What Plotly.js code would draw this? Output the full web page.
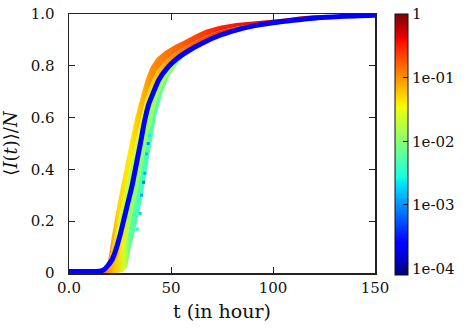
<!DOCTYPE html>
<html>
<head>
<meta charset="utf-8">
<script src="https://cdn.plot.ly/plotly-3.0.1.min.js"></script>
<style>
  html, body { margin: 0; padding: 0; background: #fff; }
  #graph { width: 472px; height: 330px; }
</style>
</head>
<body>
<div id="graph"></div>
<script>
// mean curve <I(t)>/N (the thick blue line)
const meanT = [0, 8, 15, 17, 19, 21, 23, 25, 27, 29, 31, 33, 35, 37, 39, 41, 44, 48, 53, 59, 66, 74, 82, 90, 100, 110, 120, 135, 150];
const meanY = [0.006, 0.006, 0.007, 0.012, 0.028, 0.05, 0.09, 0.145, 0.21, 0.275, 0.34, 0.42, 0.5, 0.585, 0.65, 0.69, 0.745, 0.79, 0.828, 0.86, 0.89, 0.918, 0.938, 0.953, 0.966, 0.976, 0.984, 0.991, 0.995];

// upper-left edge of the trajectory band, and the line half way to the mean
const upperT = [16, 18, 19.5, 21, 23, 25, 27.5, 30, 32.5, 35, 37.5, 40, 43, 47, 52, 57, 62, 67, 74, 82, 90, 98, 106, 113, 120, 150];
const upperY = [0.0, 0.012, 0.06, 0.14, 0.23, 0.315, 0.41, 0.51, 0.6, 0.675, 0.745, 0.795, 0.83, 0.857, 0.88, 0.9, 0.921, 0.939, 0.955, 0.965, 0.971, 0.977, 0.983, 0.99, 0.995, 0.997];
const upperMidY = [0.004, 0.015, 0.046, 0.095, 0.16, 0.23, 0.318, 0.41, 0.5, 0.588, 0.672, 0.732, 0.779, 0.818, 0.85, 0.874, 0.896, 0.916, 0.936, 0.951, 0.961, 0.97, 0.977, 0.984, 0.99, 0.996];

// lower-right edge of the band, and the line half way to the mean
const lowerT = [16, 20, 24, 26.5, 28.5, 30, 32.4, 34.8, 36.5, 38.3, 40.4, 42.8, 46, 49.5, 54, 59];
const lowerY = [0.0, 0.0, 0.0, 0.004, 0.025, 0.085, 0.165, 0.245, 0.32, 0.405, 0.5, 0.61, 0.7, 0.765, 0.815, 0.857];
const lowerMidY = [0.004, 0.019, 0.057, 0.098, 0.14, 0.196, 0.281, 0.369, 0.44, 0.511, 0.588, 0.668, 0.734, 0.781, 0.825, 0.858];

// log10 probability along t for each strip of the band
const outerUpT = [16, 19, 21, 24, 30, 35, 40, 50, 60, 75, 95, 105, 115, 150];
const outerUpP = [-0.45, -0.75, -1.1, -1.3, -1.4, -1.2, -1.0, -0.85, -0.7, -0.5, -0.4, -0.25, -0.3, -0.3];
const innerUpT = [16, 20, 24, 30, 36, 42, 50, 60, 75, 100, 150];
const innerUpP = [-0.6, -1.1, -1.6, -1.75, -1.5, -1.25, -1.0, -0.8, -0.6, -0.45, -0.3];
const innerLowT = [16, 22, 26, 30, 36, 44, 50, 59];
const innerLowP = [-0.7, -1.0, -1.4, -1.9, -1.95, -1.85, -1.7, -1.5];
const outerLowT = [16, 22, 27, 30, 36, 44, 50, 59];
const outerLowP = [-0.8, -1.2, -1.6, -2.2, -2.35, -2.2, -2.0, -1.8];

// scattered low-probability cells on the right of the band
const sparseT = [33.5, 34.9, 35.6, 36.6, 37.2, 38.0, 38.8, 39.5];
const sparseY = [0.17, 0.23, 0.30, 0.35, 0.385, 0.46, 0.50, 0.53];
const sparseP = [-2.5, -2.7, -2.9, -3.1, -2.9, -2.8, -3.0, -2.6];

const cmin = -4.1, cmax = 0;
const FONT = 'DejaVu Serif';

// matplotlib "jet"
function jet(v) {
    v = Math.max(0, Math.min(1, v));
    function seg(pts) {
        for (let i = 1; i < pts.length; i++) {
            if (v <= pts[i][0]) {
                const a = pts[i - 1], b = pts[i];
                return a[1] + (b[1] - a[1]) * (v - a[0]) / (b[0] - a[0]);
            }
        }
        return pts[pts.length - 1][1];
    }
    const r = seg([[0, 0], [0.35, 0], [0.66, 1], [0.89, 1], [1, 0.5]]);
    const g = seg([[0, 0], [0.125, 0], [0.375, 1], [0.64, 1], [0.91, 0], [1, 0]]);
    const b = seg([[0, 0.5], [0.11, 1], [0.34, 1], [0.65, 0], [1, 0]]);
    return 'rgb(' + Math.round(r * 255) + ',' + Math.round(g * 255) + ',' + Math.round(b * 255) + ')';
}
const jetScale = [0, 0.11, 0.125, 0.34, 0.35, 0.375, 0.64, 0.65, 0.66, 0.89, 0.91, 1].map(v => [v, jet(v)]);

function gradient(ts, ps) {
    const t0 = ts[0], t1 = ts[ts.length - 1];
    return {
        type: 'horizontal',
        start: t0,
        stop: t1,
        colorscale: ts.map((t, i) => [(t - t0) / (t1 - t0), jet((ps[i] - cmin) / (cmax - cmin))])
    };
}

function strip(xa, ya, xb, yb, ts, ps) {
    return {
        x: xa.concat(xb.slice().reverse()),
        y: ya.concat(yb.slice().reverse()),
        type: 'scatter',
        mode: 'none',
        fill: 'toself',
        fillgradient: gradient(ts, ps),
        hoverinfo: 'skip',
        showlegend: false
    };
}

// part of the mean curve that borders the band
const bandIdx = meanT.map((t, i) => i).filter(i => meanT[i] >= 15 && meanT[i] <= 59);
const meanBandT = bandIdx.map(i => meanT[i]);
const meanBandY = bandIdx.map(i => meanY[i]);
const upIdx = meanT.map((t, i) => i).filter(i => meanT[i] >= 15);
const meanUpT = upIdx.map(i => meanT[i]);
const meanUpY = upIdx.map(i => meanY[i]);

const data = [
    strip(upperT, upperY, upperT, upperMidY, outerUpT, outerUpP),
    strip(upperT, upperMidY, meanUpT, meanUpY, innerUpT, innerUpP),
    strip(meanBandT, meanBandY, lowerT, lowerMidY, innerLowT, innerLowP),
    strip(lowerT, lowerMidY, lowerT, lowerY, outerLowT, outerLowP),
    {
        x: sparseT,
        y: sparseY,
        type: 'scatter',
        mode: 'markers',
        marker: {
            symbol: 'square',
            size: 3,
            color: sparseP,
            colorscale: jetScale,
            cmin: cmin,
            cmax: cmax,
            showscale: true,
            colorbar: {
                x: 1.064, xanchor: 'left', xref: 'paper',
                y: 1, yanchor: 'top', yref: 'paper',
                len: 1.008, lenmode: 'fraction',
                thickness: 13, thicknessmode: 'pixels',
                xpad: 0, ypad: 0,
                outlinewidth: 1, outlinecolor: '#111',
                tickmode: 'array',
                tickvals: [-4, -3, -2, -1, 0],
                ticktext: ['1e-04', '1e-03', '1e-02', '1e-01', '1'],
                ticks: 'inside', ticklen: 5, tickcolor: '#111',
                tickfont: { family: FONT, size: 15, color: '#111' }
            }
        },
        hoverinfo: 'skip',
        showlegend: false
    },
    {
        x: meanT,
        y: meanY,
        type: 'scatter',
        mode: 'lines',
        line: { color: '#0000ff', width: 5, shape: 'spline', smoothing: 0.6 },
        hoverinfo: 'skip',
        showlegend: false
    }
];

const axisCommon = {
    showline: true, mirror: 'ticks', linecolor: '#222', linewidth: 1.5,
    ticks: 'inside', ticklen: 6, tickwidth: 1, tickcolor: '#222',
    showgrid: false, zeroline: false, automargin: false,
    tickfont: { family: FONT, size: 15, color: '#111' }
};

const layout = {
    width: 472,
    height: 330,
    margin: { l: 69, r: 90, t: 14, b: 57 },
    paper_bgcolor: '#fff',
    plot_bgcolor: '#fff',
    font: { family: FONT, color: '#111' },
    xaxis: Object.assign({}, axisCommon, {
        range: [0, 150],
        tickvals: [0, 50, 100, 150],
        ticktext: ['0.0', '50', '100', '150'],
        title: { text: 't (in hour)', font: { family: FONT, size: 19, color: '#111' }, standoff: 9 }
    }),
    yaxis: Object.assign({}, axisCommon, {
        range: [0, 1],
        tickvals: [0, 0.2, 0.4, 0.6, 0.8, 1.0],
        ticktext: ['0', '0.2', '0.4', '0.6', '0.8', '1.0'],
        ticklabelstandoff: 10,
        title: { text: '⟨<i>I</i>(<i>t</i>)⟩/<i>N</i>', font: { family: FONT, size: 18, color: '#111' }, standoff: 10 }
    })
};

Plotly.newPlot('graph', data, layout, { displayModeBar: false, staticPlot: true });
</script>
</body>
</html>
